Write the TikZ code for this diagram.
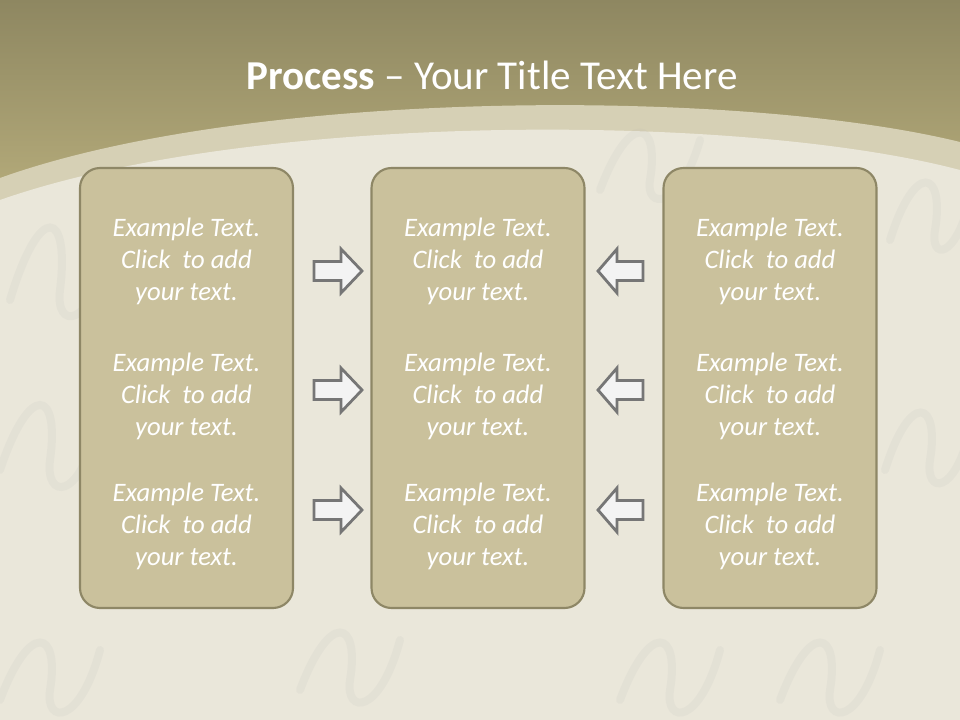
\documentclass[tikz,border=0pt]{standalone}
\usepackage{fontspec}
\setmainfont{Carlito}
\definecolor{topdark}{HTML}{8E8761}
\definecolor{toplight}{HTML}{B9AF7D}
\definecolor{bandc}{HTML}{D6D0B5}
\definecolor{paper}{HTML}{EAE7DA}
\definecolor{panelfill}{HTML}{CAC19C}
\definecolor{panelline}{HTML}{8E8766}
\definecolor{arrowline}{HTML}{767676}
\definecolor{arrowfill}{HTML}{F3F3F3}
\tikzset{
  panel/.style={draw=panelline, line width=1.6pt, fill=panelfill, rounded corners=15pt,
    minimum width=159.75pt, minimum height=330pt, inner sep=0pt},
  bodytext/.style={text=white, align=center, font=\itshape\fontsize{20}{24}\selectfont, inner sep=0pt},
  titletext/.style={text=white, font=\fontsize{30.8}{36}\selectfont, inner sep=0pt},
  blockarrow/.style={draw=arrowline, line width=2.1pt, fill=arrowfill, line join=miter},
  script/.style={draw=gray!60, line width=6pt, line cap=round, opacity=0.11},
}
\begin{document}
\begin{tikzpicture}[x=0.75pt, y=-0.75pt]
\useasboundingbox (0,0) rectangle (960,720);
% background gold band
\fill[top color=topdark, bottom color=toplight] (0,0) rectangle (960,220);
% light outer band
\fill[bandc] (0,178) .. controls (250,88) and (740,88) .. (960,142) -- (960,720) -- (0,720) -- cycle;
% paper
\fill[paper] (0,200) .. controls (250,112) and (740,112) .. (960,170) -- (960,720) -- (0,720) -- cycle;
% faint handwriting-like texture
\begin{scope}
\clip (0,178) .. controls (250,88) and (740,88) .. (960,142) -- (960,720) -- (0,720) -- cycle;
\draw[script] (10,300) .. controls (40,200) and (70,210) .. (60,290) .. controls (55,330) and (90,330) .. (110,250);
\draw[script] (0,470) .. controls (30,380) and (60,390) .. (50,460) .. controls (45,500) and (80,500) .. (95,430);
\draw[script] (600,190) .. controls (630,110) and (660,120) .. (650,180) .. controls (645,210) and (680,210) .. (700,140);
\draw[script] (890,240) .. controls (915,160) and (945,170) .. (935,230) .. controls (930,260) and (955,260) .. (970,200);
\draw[script] (885,470) .. controls (910,390) and (940,400) .. (930,460) .. controls (925,495) and (955,495) .. (970,430);
\draw[script] (300,690) .. controls (330,610) and (360,620) .. (350,680) .. controls (345,715) and (380,715) .. (400,640);
\draw[script] (620,700) .. controls (650,620) and (680,630) .. (670,690) .. controls (665,725) and (700,725) .. (720,650);
\draw[script] (0,700) .. controls (30,620) and (60,630) .. (50,690) .. controls (45,725) and (80,725) .. (100,650);
\draw[script] (780,700) .. controls (810,620) and (840,630) .. (830,690) .. controls (825,725) and (860,725) .. (880,650);
\end{scope}
% title
\node[titletext] (title) at (492,75) {\textbf{Process} -- Your Title Text Here};
% panels
\node[panel] (L) at (186.5,388) {};
\node[panel] (M) at (478,388) {};
\node[panel] (R) at (770,388) {};
% texts
\foreach \c/\x in {L/186.5, M/478, R/770}{
  \foreach \r/\y in {1/261.5, 2/396.5, 3/526.5}{
    \node[bodytext] (t\c\r) at (\x,\y) {Example Text.\\Click~ to add\\your text.};
  }
}
% arrows
\foreach \y in {271, 390, 510}{
  \draw[blockarrow] (314,\y-9.5) -- (341,\y-9.5) -- (341,\y-22) -- (362,\y) -- (341,\y+22)
    -- (341,\y+9.5) -- (314,\y+9.5) -- cycle;
  \draw[blockarrow] (643,\y-9.5) -- (617,\y-9.5) -- (617,\y-22) -- (598,\y) -- (617,\y+22)
    -- (617,\y+9.5) -- (643,\y+9.5) -- cycle;
}
\end{tikzpicture}
\end{document}
